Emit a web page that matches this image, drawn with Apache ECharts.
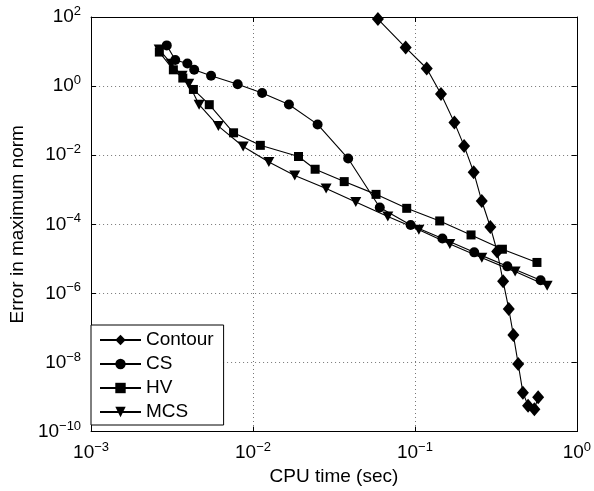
<!DOCTYPE html>
<html>
<head>
<meta charset="utf-8">
<script src="https://cdn.jsdelivr.net/npm/echarts@6/dist/echarts.min.js"></script>
<style>
html, body { margin: 0; padding: 0; background: #fff; }
#chart { width: 594px; height: 491px; }
</style>
</head>
<body>
<div id="chart"></div>
<script>
// values (CPU time in sec, error in max norm)
const contourTime = [0.0591, 0.0877, 0.1183, 0.1449, 0.1754, 0.2013, 0.2307, 0.2588, 0.2924, 0.3222, 0.3506, 0.380, 0.4055, 0.4345, 0.4645, 0.500, 0.547, 0.577]
const contourErr = [87, 13.0, 3.23, 0.589, 0.0877, 0.0186, 3.23e-3, 4.71e-4, 8.37e-5, 1.63e-5, 2.23e-6, 3.54e-7, 6.3e-8, 9.06e-9, 1.34e-9, 5.64e-10, 4.41e-10, 9.9e-10]

const csTime = [0.002934, 0.003311, 0.003933, 0.004334, 0.005508, 0.008043, 0.01139, 0.01667, 0.02506, 0.03870, 0.06067, 0.09410, 0.1478, 0.2324, 0.3720, 0.5973]
const csErr = [15.07, 5.67, 4.50, 2.96, 1.99, 1.13, 0.630, 0.294, 0.0778, 8.02e-3, 3.05e-4, 9.55e-5, 3.90e-5, 1.54e-5, 6.07e-6, 2.40e-6]

const hvTime = [0.002640, 0.003222, 0.003686, 0.004285, 0.005370, 0.007586, 0.01110, 0.01910, 0.02420, 0.03660, 0.05754, 0.08900, 0.1423, 0.2222, 0.3471, 0.5673]
const hvErr = [9.66, 2.96, 1.71, 0.80, 0.290, 0.0445, 0.0193, 9.16e-3, 3.92e-3, 1.72e-3, 7.35e-4, 2.90e-4, 1.25e-4, 4.92e-5, 1.90e-5, 7.87e-6]

const mcsTime = [0.002633, 0.003133, 0.003651, 0.004009, 0.004647, 0.006112, 0.008694, 0.01253, 0.01811, 0.02829, 0.04313, 0.06803, 0.1058, 0.1643, 0.2590, 0.4159, 0.6558]
const mcsErr = [11.55, 4.41, 1.99, 1.17, 0.290, 0.0695, 0.0178, 6.35e-3, 2.59e-3, 1.09e-3, 4.40e-4, 1.67e-4, 6.95e-5, 2.70e-5, 1.07e-5, 4.27e-6, 1.66e-6]

const seriesNames = ["Contour", "CS", "HV", "MCS"]

const FONT = '"Liberation Sans", Arial, sans-serif'
const GRID_COLOR = "#777"

function pairs(xs, ys) {
    return xs.map((x, i) => [x, ys[i]])
}

function powLabel(v) {
    const e = Math.round(Math.log10(v))
    return "{b|10}{e|" + (e < 0 ? "\u2212" + (-e) : e) + "}"
}

const richText = {
    b: { fontSize: 19, fontFamily: FONT, color: "#000" },
    e: { fontSize: 13, fontFamily: FONT, color: "#000", padding: [0, 0, 11, 0] }
}

function init() {
    const myChart = echarts.init(document.getElementById("chart"))

    const tickStyle = { show: true, inside: true, length: 5, lineStyle: { color: "#000", width: 1 } }
    const lineStyle = { show: true, lineStyle: { color: "#000", width: 1 } }
    const dotted = { show: true, lineStyle: { color: GRID_COLOR, width: 1, type: [1, 3] } }

    const mk = (name, time, err, symbol, size, rot) => ({
        name: name,
        type: "line",
        data: pairs(time, err),
        symbol: symbol,
        symbolSize: size,
        symbolRotate: rot || 0,
        showSymbol: true,
        clip: false,
        lineStyle: { color: "#000", width: 1.1 },
        itemStyle: { color: "#000", borderWidth: 0 },
        emphasis: { disabled: true }
    })

    const option = {
        animation: false,
        backgroundColor: "#fff",
        grid: { left: 83, right: 15, top: 17, bottom: 58, containLabel: false },
        legend: {
            orient: "vertical",
            left: 91,
            top: 325,
            padding: [5, 10, 3, 8],
            itemGap: 4,
            itemWidth: 41,
            itemHeight: 13,
            backgroundColor: "#fff",
            borderColor: "#000",
            borderWidth: 1,
            borderRadius: 0,
            textStyle: { fontSize: 19, fontFamily: FONT, color: "#000", lineHeight: 20 },
            data: seriesNames
        },
        xAxis: [{
            type: "log",
            logBase: 10,
            min: 0.001,
            max: 1,
            name: "CPU time (sec)",
            nameLocation: "middle",
            nameGap: 34,
            nameTextStyle: { fontSize: 19, fontFamily: FONT, color: "#000" },
            axisLine: lineStyle,
            axisTick: tickStyle,
            splitLine: dotted,
            minorTick: { show: false },
            axisLabel: { margin: 9, formatter: powLabel, rich: richText, showMinLabel: true, showMaxLabel: true }
        }, {
            type: "log",
            logBase: 10,
            min: 0.001,
            max: 1,
            position: "top",
            axisLine: lineStyle,
            axisTick: tickStyle,
            splitLine: { show: false },
            axisLabel: { show: false }
        }],
        yAxis: [{
            type: "log",
            logBase: 10,
            min: 1e-10,
            max: 1e2,
            interval: 2,
            name: "Error in maximum norm",
            nameLocation: "middle",
            nameGap: 56,
            nameTextStyle: { fontSize: 19, fontFamily: FONT, color: "#000" },
            axisLine: lineStyle,
            axisTick: tickStyle,
            splitLine: dotted,
            axisLabel: { margin: 10, formatter: powLabel, rich: richText, showMinLabel: true, showMaxLabel: true }
        }, {
            type: "log",
            logBase: 10,
            min: 1e-10,
            max: 1e2,
            interval: 2,
            position: "right",
            axisLine: lineStyle,
            axisTick: tickStyle,
            splitLine: { show: false },
            axisLabel: { show: false }
        }],
        series: [
            mk("Contour", contourTime, contourErr, "diamond", [12, 14]),
            mk("CS", csTime, csErr, "circle", 10),
            mk("HV", hvTime, hvErr, "rect", 9),
            mk("MCS", mcsTime, mcsErr, "triangle", [11, 10], 180)
        ]
    }

    myChart.setOption(option)
}

init()
</script>
</body>
</html>
